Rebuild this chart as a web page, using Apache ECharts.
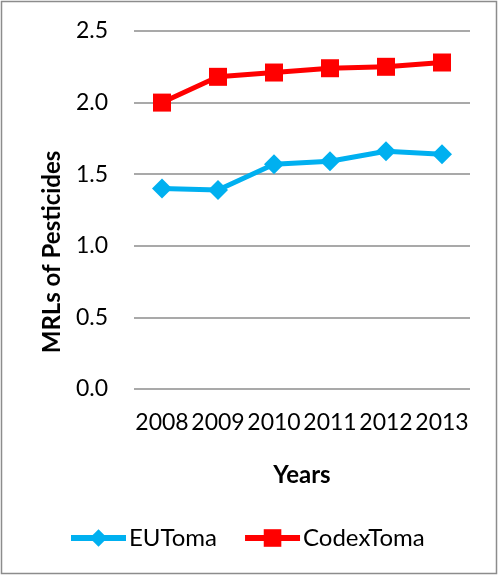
<!DOCTYPE html>
<html>
<head>
<meta charset="utf-8">
<script src="https://cdn.jsdelivr.net/npm/echarts@6/dist/echarts.min.js"></script>
<style>
html,body{margin:0;padding:0;background:#fff;}
#chart{width:499px;height:576px;}
</style>
</head>
<body>
<div id="chart"></div>
<script>
var years = ['2008','2009','2010','2011','2012','2013'];
var euToma = [1.40, 1.39, 1.57, 1.59, 1.66, 1.64];
var codexToma = [2.00, 2.18, 2.21, 2.24, 2.25, 2.28];
var yTicks = {min: 0, max: 2.5, interval: 0.5};

var FONT = 'Lato';
var chart = echarts.init(document.getElementById('chart'), null, {renderer: 'canvas'});
chart.setOption({
  animation: false,
  backgroundColor: '#ffffff',
  textStyle: {fontFamily: FONT},
  grid: {left: 134, right: 29, top: 31, bottom: 187, containLabel: false},
  graphic: [
    {type: 'rect', shape: {x: 1.5, y: 1.5, width: 495, height: 572},
     style: {fill: 'none', stroke: '#8c8c8c', lineWidth: 1.5}, silent: true},
    {type: 'text', x: 52, y: 252, rotation: Math.PI / 2,
     style: {text: 'MRLs of Pesticides', font: 'bold 24px ' + FONT, fill: '#000',
             textAlign: 'center', textVerticalAlign: 'middle'}}
  ],
  legend: {
    bottom: 21,
    left: 63,
    itemWidth: 55,
    itemHeight: 22,
    itemGap: 25,
    textStyle: {fontFamily: FONT, fontSize: 24, color: '#000', padding: [0, 0, 0, -2]},
    data: [
      {name: 'EUToma', lineStyle: {width: 6}},
      {name: 'CodexToma', lineStyle: {width: 6}}
    ]
  },
  xAxis: {
    type: 'category',
    data: years,
    boundaryGap: true,
    name: 'Years',
    nameLocation: 'middle',
    nameGap: 74,
    nameTextStyle: {fontFamily: FONT, fontSize: 24, fontWeight: 'bold', color: '#000'},
    axisLine: {show: false},
    axisTick: {show: false},
    axisLabel: {fontFamily: FONT, fontSize: 23, color: '#000', margin: 22, interval: 0}
  },
  yAxis: {
    type: 'value',
    min: yTicks.min,
    max: yTicks.max,
    interval: yTicks.interval,
    axisLine: {show: false},
    axisTick: {show: false},
    axisLabel: {fontFamily: FONT, fontSize: 23, color: '#000', margin: 26,
                formatter: function (v) { return v.toFixed(1); }},
    splitLine: {lineStyle: {color: '#8c8c8c', width: 1.5}}
  },
  series: [
    {
      name: 'EUToma', type: 'line', data: euToma,
      symbol: 'diamond', symbolSize: 20,
      lineStyle: {color: '#00B0F0', width: 5},
      itemStyle: {color: '#00B0F0'}
    },
    {
      name: 'CodexToma', type: 'line', data: codexToma,
      symbol: 'rect', symbolSize: 18,
      lineStyle: {color: '#FF0000', width: 5},
      itemStyle: {color: '#FF0000'}
    }
  ]
});
</script>
</body>
</html>
